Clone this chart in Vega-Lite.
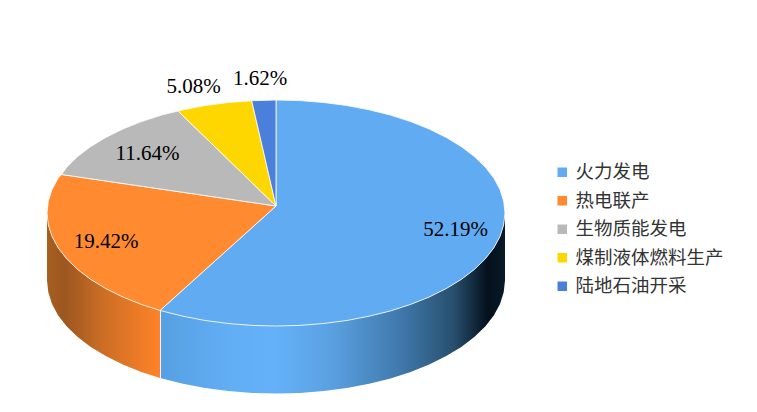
{"$schema":"https://vega.github.io/schema/vega-lite/v6.json","width":757,"height":412,"autosize":{"type":"fit","contains":"padding"},"padding":0,"background":"white","view":{"stroke":null},
"datasets":{
"walls":[
{"side":"a","x":505,"y":213,"y2":280.5},{"side":"a","x":503.7,"y":224.8,"y2":292.3},{"side":"a","x":500,"y":236.5,"y2":304},{"side":"a","x":493.8,"y":247.9,"y2":315.4},{"side":"a","x":485.2,"y":259,"y2":326.5},{"side":"a","x":474.3,"y":269.5,"y2":337},{"side":"a","x":461.3,"y":279.4,"y2":346.9},{"side":"a","x":446.2,"y":288.6,"y2":356.1},{"side":"a","x":429.2,"y":297,"y2":364.5},{"side":"a","x":410.6,"y":304.4,"y2":371.9},{"side":"a","x":390.5,"y":310.9,"y2":378.4},{"side":"a","x":369.1,"y":316.2,"y2":383.7},{"side":"a","x":346.8,"y":320.5,"y2":388},{"side":"a","x":323.6,"y":323.5,"y2":391},{"side":"a","x":299.9,"y":325.4,"y2":392.9},{"side":"a","x":276,"y":326,"y2":393.5},{"side":"a","x":252.1,"y":325.4,"y2":392.9},{"side":"a","x":228.4,"y":323.5,"y2":391},{"side":"a","x":205.2,"y":320.5,"y2":388},{"side":"a","x":182.9,"y":316.2,"y2":383.7},{"side":"a","x":160,"y":310.5,"y2":378},
{"side":"b","x":160,"y":310.5,"y2":378},{"side":"b","x":141.4,"y":304.4,"y2":371.9},{"side":"b","x":122.8,"y":297,"y2":364.5},{"side":"b","x":105.8,"y":288.6,"y2":356.1},{"side":"b","x":90.7,"y":279.4,"y2":346.9},{"side":"b","x":77.7,"y":269.5,"y2":337},{"side":"b","x":66.8,"y":259,"y2":326.5},{"side":"b","x":58.2,"y":247.9,"y2":315.4},{"side":"b","x":52,"y":236.5,"y2":304},{"side":"b","x":48.3,"y":224.8,"y2":292.3},{"side":"b","x":47,"y":213,"y2":280.5}
],
"seam":[{"x":160.5,"y":310.5,"y2":378}],
"top":[
{"s":"火力发电","i":0,"x":276,"y":206},{"s":"火力发电","i":1,"x":276,"y":100},{"s":"火力发电","i":2,"x":299.9,"y":100.6},{"s":"火力发电","i":3,"x":323.6,"y":102.5},{"s":"火力发电","i":4,"x":346.8,"y":105.5},{"s":"火力发电","i":5,"x":369.1,"y":109.8},{"s":"火力发电","i":6,"x":390.5,"y":115.1},{"s":"火力发电","i":7,"x":410.6,"y":121.6},{"s":"火力发电","i":8,"x":429.2,"y":129},{"s":"火力发电","i":9,"x":446.2,"y":137.4},{"s":"火力发电","i":10,"x":461.3,"y":146.6},{"s":"火力发电","i":11,"x":474.3,"y":156.5},{"s":"火力发电","i":12,"x":485.2,"y":167},{"s":"火力发电","i":13,"x":493.8,"y":178.1},{"s":"火力发电","i":14,"x":500,"y":189.5},{"s":"火力发电","i":15,"x":503.7,"y":201.2},{"s":"火力发电","i":16,"x":505,"y":213},{"s":"火力发电","i":17,"x":503.7,"y":224.8},{"s":"火力发电","i":18,"x":500,"y":236.5},{"s":"火力发电","i":19,"x":493.8,"y":247.9},{"s":"火力发电","i":20,"x":485.2,"y":259},{"s":"火力发电","i":21,"x":474.3,"y":269.5},{"s":"火力发电","i":22,"x":461.3,"y":279.4},{"s":"火力发电","i":23,"x":446.2,"y":288.6},{"s":"火力发电","i":24,"x":429.2,"y":297},{"s":"火力发电","i":25,"x":410.6,"y":304.4},{"s":"火力发电","i":26,"x":390.5,"y":310.9},{"s":"火力发电","i":27,"x":369.1,"y":316.2},{"s":"火力发电","i":28,"x":346.8,"y":320.5},{"s":"火力发电","i":29,"x":323.6,"y":323.5},{"s":"火力发电","i":30,"x":299.9,"y":325.4},{"s":"火力发电","i":31,"x":276,"y":326},{"s":"火力发电","i":32,"x":252.1,"y":325.4},{"s":"火力发电","i":33,"x":228.4,"y":323.5},{"s":"火力发电","i":34,"x":205.2,"y":320.5},{"s":"火力发电","i":35,"x":182.9,"y":316.2},{"s":"火力发电","i":36,"x":160,"y":310.5},{"s":"火力发电","i":37,"x":276,"y":206},
{"s":"热电联产","i":0,"x":276,"y":206},{"s":"热电联产","i":1,"x":160,"y":310.5},{"s":"热电联产","i":2,"x":141.4,"y":304.4},{"s":"热电联产","i":3,"x":122.8,"y":297},{"s":"热电联产","i":4,"x":105.8,"y":288.6},{"s":"热电联产","i":5,"x":90.7,"y":279.4},{"s":"热电联产","i":6,"x":77.7,"y":269.5},{"s":"热电联产","i":7,"x":66.8,"y":259},{"s":"热电联产","i":8,"x":58.2,"y":247.9},{"s":"热电联产","i":9,"x":52,"y":236.5},{"s":"热电联产","i":10,"x":48.3,"y":224.8},{"s":"热电联产","i":11,"x":47,"y":213},{"s":"热电联产","i":12,"x":48.3,"y":201.2},{"s":"热电联产","i":13,"x":52,"y":189.5},{"s":"热电联产","i":14,"x":58.2,"y":178.1},{"s":"热电联产","i":15,"x":61.6,"y":174.5},{"s":"热电联产","i":16,"x":276,"y":206},
{"s":"生物质能发电","i":0,"x":276,"y":206},{"s":"生物质能发电","i":1,"x":61.6,"y":174.5},{"s":"生物质能发电","i":2,"x":66.8,"y":167},{"s":"生物质能发电","i":3,"x":77.7,"y":156.5},{"s":"生物质能发电","i":4,"x":90.7,"y":146.6},{"s":"生物质能发电","i":5,"x":105.8,"y":137.4},{"s":"生物质能发电","i":6,"x":122.8,"y":129},{"s":"生物质能发电","i":7,"x":141.4,"y":121.6},{"s":"生物质能发电","i":8,"x":161.5,"y":115.1},{"s":"生物质能发电","i":9,"x":178,"y":111},{"s":"生物质能发电","i":10,"x":276,"y":206},
{"s":"煤制液体燃料生产","i":0,"x":276,"y":206},{"s":"煤制液体燃料生产","i":1,"x":178,"y":111},{"s":"煤制液体燃料生产","i":2,"x":182.9,"y":109.8},{"s":"煤制液体燃料生产","i":3,"x":205.2,"y":105.5},{"s":"煤制液体燃料生产","i":4,"x":228.4,"y":102.5},{"s":"煤制液体燃料生产","i":5,"x":251.7,"y":100.7},{"s":"煤制液体燃料生产","i":6,"x":276,"y":206},
{"s":"陆地石油开采","i":0,"x":276,"y":206},{"s":"陆地石油开采","i":1,"x":251.7,"y":100.7},{"s":"陆地石油开采","i":2,"x":276,"y":100},{"s":"陆地石油开采","i":3,"x":276,"y":206}
],
"labels":[{"s":"火力发电","share":"52.19%","x":455.5,"y":230},{"s":"热电联产","share":"19.42%","x":106,"y":242},{"s":"生物质能发电","share":"11.64%","x":147.5,"y":154},{"s":"煤制液体燃料生产","share":"5.08%","x":193.5,"y":87},{"s":"陆地石油开采","share":"1.62%","x":260,"y":79}]
},
"encoding":{
"x":{"field":"x","type":"quantitative","scale":{"domain":[0,757],"nice":false,"zero":false},"axis":null},
"y":{"field":"y","type":"quantitative","scale":{"domain":[412,0],"nice":false,"zero":false},"axis":null}
},
"layer":[
{"data":{"name":"walls"},"transform":[{"filter":"datum.side==='a'"}],"mark":{"type":"area","fill":{"gradient":"linear","x1":0,"y1":0,"x2":1,"y2":0,"stops":[{"offset":0,"color":"#569fe2"},{"offset":0.2,"color":"#62aef5"},{"offset":0.33,"color":"#64b1fa"},{"offset":0.5,"color":"#5aa0e0"},{"offset":0.7,"color":"#3f78ab"},{"offset":0.85,"color":"#28506f"},{"offset":0.95,"color":"#04101c"},{"offset":1,"color":"#0a1a28"}]}},"encoding":{"y2":{"field":"y2"}}},
{"data":{"name":"walls"},"transform":[{"filter":"datum.side==='b'"}],"mark":{"type":"area","fill":{"gradient":"linear","x1":0,"y1":0,"x2":1,"y2":0,"stops":[{"offset":0,"color":"#a86020"},{"offset":0.15,"color":"#9c5620"},{"offset":0.5,"color":"#cc6e25"},{"offset":1,"color":"#ff8228"}]}},"encoding":{"y2":{"field":"y2"}}},
{"data":{"name":"seam"},"mark":{"type":"rule","color":"#ffffff","strokeWidth":1,"opacity":0.85},"encoding":{"y2":{"field":"y2"}}},
{"data":{"name":"top"},"mark":{"type":"line","filled":true,"stroke":"#ffffff","strokeWidth":1,"strokeOpacity":0.8},
"encoding":{"order":{"field":"i","type":"quantitative"},"color":{"field":"s","type":"nominal","scale":{"domain":["火力发电","热电联产","生物质能发电","煤制液体燃料生产","陆地石油开采"],"range":["#61abf3","#ff8a2f","#b9b9b9","#ffd700","#4a7fdc"]},"legend":{"title":null,"orient":"none","legendX":553,"legendY":163,"symbolType":"square","symbolSize":90,"symbolStrokeWidth":0,"labelFont":"Noto Sans CJK SC","labelFontSize":18.5,"labelColor":"#333333","labelOffset":4,"rowPadding":9.5,"labelLimit":200}}}},
{"data":{"name":"labels"},"mark":{"type":"text","font":"Liberation Serif","fontSize":21,"color":"#000000","align":"center","baseline":"middle"},"encoding":{"text":{"field":"share","type":"nominal"}}}
]}
